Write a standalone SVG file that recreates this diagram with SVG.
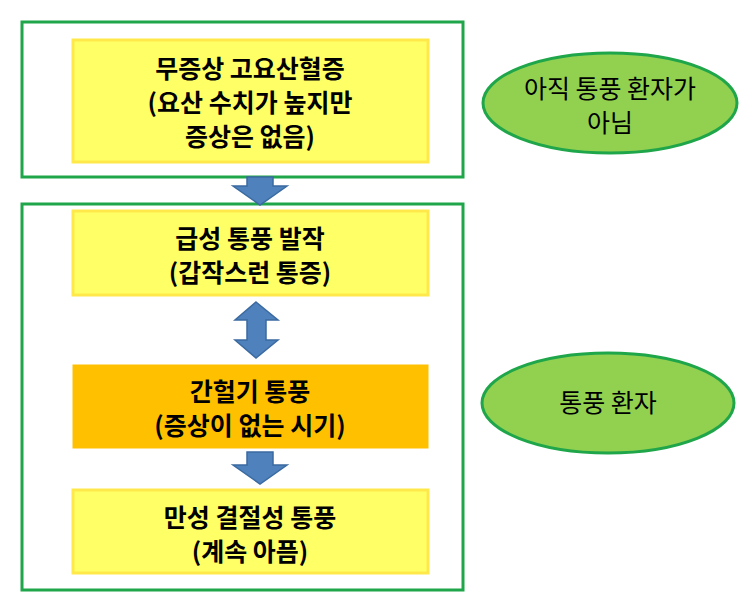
<svg xmlns="http://www.w3.org/2000/svg" width="743" height="611" viewBox="0 0 743 611">
<style>
.frame{fill:#fff;stroke:#1fa64a;stroke-width:3}
.box{fill:#ffff66;stroke:#ffe94a;stroke-width:3}
.orange{fill:#ffc000;stroke:#ffc000}
.ell{fill:#92d050;stroke:#1fa64a;stroke-width:3}
.arr{fill:#4f81bd;stroke:#3a6aa0;stroke-width:1.5}
text{font-family:"Noto Sans CJK KR","Noto Sans",sans-serif;font-size:25px;text-anchor:middle;fill:#000}
.b{font-weight:bold}
</style>
<rect width="743" height="611" fill="#fff"/>
<g id="frame1"><rect class="frame" x="22" y="22" width="441" height="155"/></g>
<g id="frame2"><rect class="frame" x="22" y="204" width="441" height="386"/></g>
<g id="connectors">
<path class="arr" d="M247,177 H273 V186 H287 L260,205 L233,186 H247 Z"/>
<path class="arr" d="M256,302 L278,320 H266 V340 H278 L256,358 L235,340 H247 V320 H235 Z"/>
<path class="arr" d="M247,452 H273 V465 H287 L260,484 L233,465 H247 Z"/>
</g>
<g id="n1"><rect class="box" x="73" y="40" width="355" height="122"/>
<text class="b" x="250" y="78">무증상 고요산혈증</text>
<text class="b" x="250" y="112">(요산 수치가 높지만</text>
<text class="b" x="250" y="146">증상은 없음)</text></g>
<g id="n2"><rect class="box" x="73" y="211" width="355" height="84"/>
<text class="b" x="250" y="248">급성 통풍 발작</text>
<text class="b" x="250" y="282">(갑작스런 통증)</text></g>
<g id="n3"><rect class="orange" x="73" y="365" width="355" height="83"/>
<text class="b" x="250" y="401">간헐기  통풍</text>
<text class="b" x="250" y="435">(증상이 없는 시기)</text></g>
<g id="n4"><rect class="box" x="73" y="490" width="355" height="83"/>
<text class="b" x="250" y="527">만성 결절성 통풍</text>
<text class="b" x="250" y="561">(계속 아픔)</text></g>
<g id="e1"><ellipse class="ell" cx="610" cy="103" rx="127" ry="50"/>
<text x="610" y="98">아직 통풍 환자가</text>
<text x="610" y="132">아님</text></g>
<g id="e2"><ellipse class="ell" cx="608" cy="403" rx="126" ry="50"/>
<text x="608" y="412">통풍 환자</text></g>
</svg>
